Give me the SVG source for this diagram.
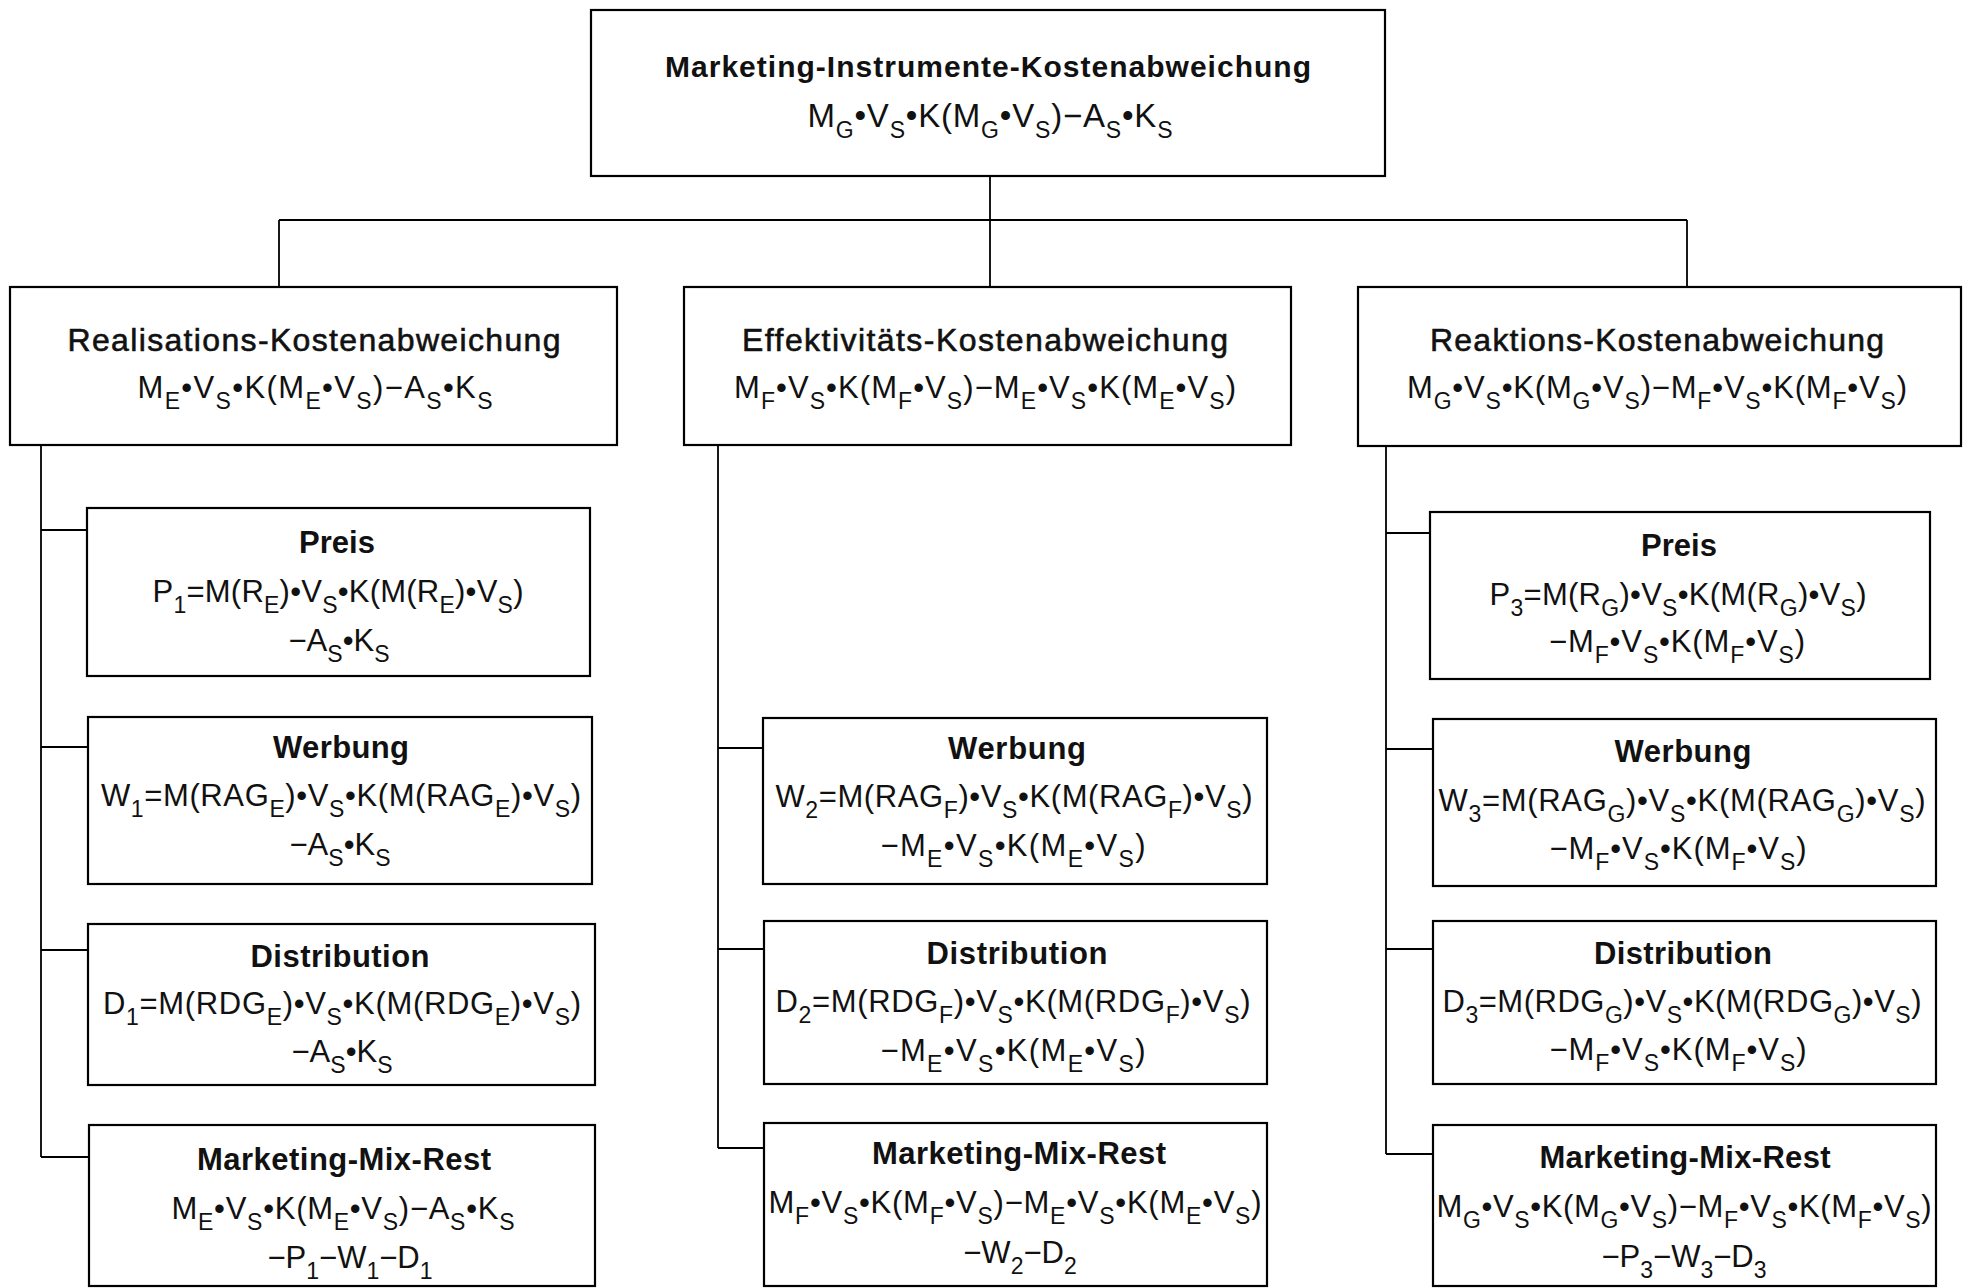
<svg xmlns="http://www.w3.org/2000/svg" width="1971" height="1288" viewBox="0 0 1971 1288">
<style>
.box{fill:#fff;stroke:#000;stroke-width:2.2}
.ln{fill:none;stroke:#000;stroke-width:1.8}
text{font-family:"Liberation Sans",Arial,Helvetica,sans-serif;fill:#111;text-anchor:middle}
.t0{font-weight:bold;font-size:30px}
.t1{font-size:32px;stroke:#111;stroke-width:0.6}
.t2{font-weight:bold;font-size:31px}
.f{font-size:31px}
.f0{font-size:33px}
.s{font-size:23px;baseline-shift:-11px}
</style>
<rect width="1971" height="1288" fill="#fff"/>
<g id="connectors">
<path class="ln" d="M990 176V287M279 220H1687M279 220V287M1687 220V287"/>
<path class="ln" d="M41 445V1157M41 530H87M41 747H88M41 950H88M41 1157H89"/>
<path class="ln" d="M718 445V1148M718 748H763M718 949H764M718 1148H764"/>
<path class="ln" d="M1386 446V1154M1386 533H1430M1386 749H1433M1386 949H1433M1386 1154H1433"/>
</g>
<g id="root">
<rect class="box" x="591" y="10" width="794" height="166"/>
<text class="t0" x="988" y="77" textLength="646">Marketing-Instrumente-Kostenabweichung</text>
<text class="f0" x="990" y="127" textLength="365">M<tspan class="s">G</tspan>•V<tspan class="s">S</tspan>•K(M<tspan class="s">G</tspan>•V<tspan class="s">S</tspan>)−A<tspan class="s">S</tspan>•K<tspan class="s">S</tspan></text>
</g>
<g id="realisation">
<rect class="box" x="10" y="287" width="607" height="158"/>
<text class="t1" x="314" y="351" textLength="493">Realisations-Kostenabweichung</text>
<text class="f" x="315" y="398" textLength="355">M<tspan class="s">E</tspan>•V<tspan class="s">S</tspan>•K(M<tspan class="s">E</tspan>•V<tspan class="s">S</tspan>)−A<tspan class="s">S</tspan>•K<tspan class="s">S</tspan></text>
</g>
<g id="effektivitaet">
<rect class="box" x="684" y="287" width="607" height="158"/>
<text class="t1" x="985" y="351" textLength="486">Effektivitäts-Kostenabweichung</text>
<text class="f" x="985" y="398" textLength="502">M<tspan class="s">F</tspan>•V<tspan class="s">S</tspan>•K(M<tspan class="s">F</tspan>•V<tspan class="s">S</tspan>)−M<tspan class="s">E</tspan>•V<tspan class="s">S</tspan>•K(M<tspan class="s">E</tspan>•V<tspan class="s">S</tspan>)</text>
</g>
<g id="reaktion">
<rect class="box" x="1358" y="287" width="603" height="159"/>
<text class="t1" x="1657" y="351" textLength="454">Reaktions-Kostenabweichung</text>
<text class="f" x="1657" y="398" textLength="500">M<tspan class="s">G</tspan>•V<tspan class="s">S</tspan>•K(M<tspan class="s">G</tspan>•V<tspan class="s">S</tspan>)−M<tspan class="s">F</tspan>•V<tspan class="s">S</tspan>•K(M<tspan class="s">F</tspan>•V<tspan class="s">S</tspan>)</text>
</g>
<g id="preis1">
<rect class="box" x="87" y="508" width="503" height="168"/>
<text class="t2" x="337" y="553" textLength="76">Preis</text>
<text class="f" x="338" y="602" textLength="371">P<tspan class="s">1</tspan>=M(R<tspan class="s">E</tspan>)•V<tspan class="s">S</tspan>•K(M(R<tspan class="s">E</tspan>)•V<tspan class="s">S</tspan>)</text>
<text class="f" x="339" y="651">−A<tspan class="s">S</tspan>•K<tspan class="s">S</tspan></text>
</g>
<g id="werbung1">
<rect class="box" x="88" y="717" width="504" height="167"/>
<text class="t2" x="341" y="758" textLength="136">Werbung</text>
<text class="f" x="341" y="806" textLength="480">W<tspan class="s">1</tspan>=M(RAG<tspan class="s">E</tspan>)•V<tspan class="s">S</tspan>•K(M(RAG<tspan class="s">E</tspan>)•V<tspan class="s">S</tspan>)</text>
<text class="f" x="340" y="855">−A<tspan class="s">S</tspan>•K<tspan class="s">S</tspan></text>
</g>
<g id="distribution1">
<rect class="box" x="88" y="924" width="507" height="161"/>
<text class="t2" x="340" y="967" textLength="179">Distribution</text>
<text class="f" x="342" y="1014" textLength="478">D<tspan class="s">1</tspan>=M(RDG<tspan class="s">E</tspan>)•V<tspan class="s">S</tspan>•K(M(RDG<tspan class="s">E</tspan>)•V<tspan class="s">S</tspan>)</text>
<text class="f" x="342" y="1062">−A<tspan class="s">S</tspan>•K<tspan class="s">S</tspan></text>
</g>
<g id="mmr1">
<rect class="box" x="89" y="1125" width="506" height="161"/>
<text class="t2" x="344" y="1170" textLength="294">Marketing-Mix-Rest</text>
<text class="f" x="343" y="1219" textLength="343">M<tspan class="s">E</tspan>•V<tspan class="s">S</tspan>•K(M<tspan class="s">E</tspan>•V<tspan class="s">S</tspan>)−A<tspan class="s">S</tspan>•K<tspan class="s">S</tspan></text>
<text class="f" x="350" y="1268">−P<tspan class="s">1</tspan>−W<tspan class="s">1</tspan>−D<tspan class="s">1</tspan></text>
</g>
<g id="werbung2">
<rect class="box" x="763" y="718" width="504" height="166"/>
<text class="t2" x="1017" y="759" textLength="138">Werbung</text>
<text class="f" x="1014" y="807" textLength="477">W<tspan class="s">2</tspan>=M(RAG<tspan class="s">F</tspan>)•V<tspan class="s">S</tspan>•K(M(RAG<tspan class="s">F</tspan>)•V<tspan class="s">S</tspan>)</text>
<text class="f" x="1013" y="856" textLength="265">−M<tspan class="s">E</tspan>•V<tspan class="s">S</tspan>•K(M<tspan class="s">E</tspan>•V<tspan class="s">S</tspan>)</text>
</g>
<g id="distribution2">
<rect class="box" x="764" y="921" width="503" height="163"/>
<text class="t2" x="1017" y="964" textLength="181">Distribution</text>
<text class="f" x="1013" y="1012" textLength="475">D<tspan class="s">2</tspan>=M(RDG<tspan class="s">F</tspan>)•V<tspan class="s">S</tspan>•K(M(RDG<tspan class="s">F</tspan>)•V<tspan class="s">S</tspan>)</text>
<text class="f" x="1013" y="1061" textLength="265">−M<tspan class="s">E</tspan>•V<tspan class="s">S</tspan>•K(M<tspan class="s">E</tspan>•V<tspan class="s">S</tspan>)</text>
</g>
<g id="mmr2">
<rect class="box" x="764" y="1123" width="503" height="163"/>
<text class="t2" x="1019" y="1164" textLength="294">Marketing-Mix-Rest</text>
<text class="f" x="1015" y="1213" textLength="493">M<tspan class="s">F</tspan>•V<tspan class="s">S</tspan>•K(M<tspan class="s">F</tspan>•V<tspan class="s">S</tspan>)−M<tspan class="s">E</tspan>•V<tspan class="s">S</tspan>•K(M<tspan class="s">E</tspan>•V<tspan class="s">S</tspan>)</text>
<text class="f" x="1020" y="1263">−W<tspan class="s">2</tspan>−D<tspan class="s">2</tspan></text>
</g>
<g id="preis3">
<rect class="box" x="1430" y="512" width="500" height="167"/>
<text class="t2" x="1679" y="556" textLength="76">Preis</text>
<text class="f" x="1678" y="605" textLength="377">P<tspan class="s">3</tspan>=M(R<tspan class="s">G</tspan>)•V<tspan class="s">S</tspan>•K(M(R<tspan class="s">G</tspan>)•V<tspan class="s">S</tspan>)</text>
<text class="f" x="1677" y="652" textLength="256">−M<tspan class="s">F</tspan>•V<tspan class="s">S</tspan>•K(M<tspan class="s">F</tspan>•V<tspan class="s">S</tspan>)</text>
</g>
<g id="werbung3">
<rect class="box" x="1433" y="719" width="503" height="167"/>
<text class="t2" x="1683" y="762" textLength="137">Werbung</text>
<text class="f" x="1682" y="811" textLength="487">W<tspan class="s">3</tspan>=M(RAG<tspan class="s">G</tspan>)•V<tspan class="s">S</tspan>•K(M(RAG<tspan class="s">G</tspan>)•V<tspan class="s">S</tspan>)</text>
<text class="f" x="1678" y="859" textLength="257">−M<tspan class="s">F</tspan>•V<tspan class="s">S</tspan>•K(M<tspan class="s">F</tspan>•V<tspan class="s">S</tspan>)</text>
</g>
<g id="distribution3">
<rect class="box" x="1433" y="921" width="503" height="163"/>
<text class="t2" x="1683" y="964" textLength="178">Distribution</text>
<text class="f" x="1682" y="1012" textLength="479">D<tspan class="s">3</tspan>=M(RDG<tspan class="s">G</tspan>)•V<tspan class="s">S</tspan>•K(M(RDG<tspan class="s">G</tspan>)•V<tspan class="s">S</tspan>)</text>
<text class="f" x="1678" y="1060" textLength="257">−M<tspan class="s">F</tspan>•V<tspan class="s">S</tspan>•K(M<tspan class="s">F</tspan>•V<tspan class="s">S</tspan>)</text>
</g>
<g id="mmr3">
<rect class="box" x="1433" y="1125" width="503" height="161"/>
<text class="t2" x="1685" y="1168" textLength="291">Marketing-Mix-Rest</text>
<text class="f" x="1684" y="1217" textLength="495">M<tspan class="s">G</tspan>•V<tspan class="s">S</tspan>•K(M<tspan class="s">G</tspan>•V<tspan class="s">S</tspan>)−M<tspan class="s">F</tspan>•V<tspan class="s">S</tspan>•K(M<tspan class="s">F</tspan>•V<tspan class="s">S</tspan>)</text>
<text class="f" x="1684" y="1267">−P<tspan class="s">3</tspan>−W<tspan class="s">3</tspan>−D<tspan class="s">3</tspan></text>
</g>
</svg>
